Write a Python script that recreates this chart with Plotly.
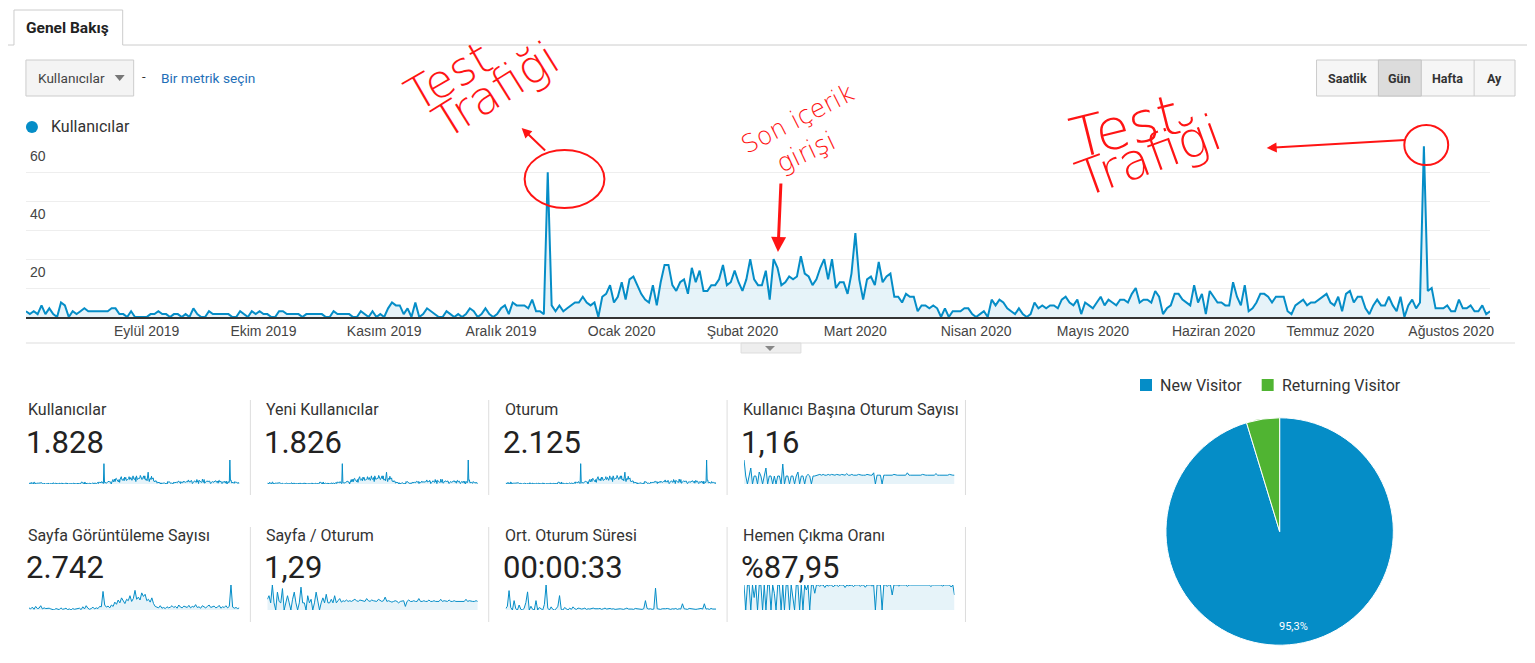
import pandas as pd
import plotly.graph_objects as go

W, H = 1535, 663
OFF = 8  # default page margin around the plot div
FW, FH = W - 2 * OFF, H - 2 * OFF - 5  # keep the page inside the window (no scrollbars)
BLUE = "#058DC7"
GREEN = "#50B432"
FILL = "rgba(5,141,199,0.10)"
RED = "#ff1414"
LINK = "#1f6fb8"
ROBOTO = "Roboto, Arial, sans-serif"
ARIAL = "Arial, Liberation Sans, sans-serif"
HAND = "DejaVu Sans"

START = "2019-08-01"

# daily users, 2019-08-01 .. 2020-08-11
users = [
    # Aug 2019
    2, 1, 2, 1, 4, 1, 3, 1, 0, 5, 4, 0, 2, 1, 2, 3, 2, 2, 2, 2, 2, 2, 3, 3, 1, 1, 0, 2, 0, 0, 0,
    # Sep
    0, 1, 1, 2, 1, 1, 0, 1, 1, 0, 1, 0, 3, 1, 0, 0, 2, 1, 1, 1, 1, 1, 0, 0, 2, 1, 0, 2, 1, 2,
    # Oct
    1, 1, 0, 0, 2, 2, 1, 1, 1, 1, 0, 1, 1, 1, 1, 1, 0, 0, 2, 1, 1, 1, 1, 0, 0, 2, 1, 0, 2, 0, 1,
    # Nov
    0, 3, 5, 4, 4, 1, 3, 0, 5, 0, 1, 3, 2, 1, 0, 0, 2, 1, 0, 1, 0, 1, 3, 2, 0, 1, 3, 1, 0, 1,
    # Dec
    3, 4, 1, 5, 4, 4, 4, 3, 6, 2, 2, 1, 50, 4, 2, 4, 2, 3, 4, 5, 5, 7, 5, 4, 5, 0, 7, 8, 11, 5, 7,
    # Jan 2020
    12, 6, 13, 14, 11, 8, 6, 5, 11, 4, 12, 18, 18, 11, 9, 12, 13, 8, 17, 12, 16, 9, 9, 11, 11, 13, 18, 11, 12, 16, 12,
    # Feb
    9, 13, 20, 13, 11, 11, 16, 6, 20, 17, 11, 12, 14, 13, 14, 21, 15, 14, 11, 13, 17, 20, 13, 20, 10, 12, 12, 8, 15,
    # Mar
    29, 13, 6, 13, 14, 11, 19, 12, 14, 15, 7, 7, 5, 8, 7, 7, 2, 4, 4, 3, 4, 3, 0, 3, 0, 2, 2, 2, 3, 3, 1,
    # Apr
    0, 1, 2, 0, 6, 4, 6, 5, 3, 2, 1, 3, 1, 0, 1, 5, 3, 4, 3, 4, 4, 3, 6, 7, 5, 4, 6, 1, 5, 4,
    # May
    3, 5, 7, 4, 6, 5, 4, 6, 6, 5, 8, 10, 5, 6, 6, 5, 9, 7, 1, 3, 4, 8, 8, 6, 5, 4, 11, 5, 8, 1, 9,
    # Jun
    7, 5, 5, 4, 4, 12, 7, 4, 11, 2, 3, 5, 8, 8, 7, 5, 7, 7, 7, 2, 1, 4, 5, 6, 4, 5, 5, 6, 7, 8,
    # Jul
    5, 4, 7, 2, 8, 9, 5, 7, 7, 3, 1, 4, 6, 4, 4, 7, 4, 2, 7, 0, 4, 6, 3, 5, 59, 9, 10, 3, 3, 3, 4,
    # Aug
    2, 2, 6, 3, 3, 4, 2, 2, 4, 1, 2,
]

month_ticks = ["2019-09-01", "2019-10-01", "2019-11-01", "2019-12-01", "2020-01-01", "2020-02-01",
               "2020-03-01", "2020-04-01", "2020-05-01", "2020-06-01", "2020-07-01", "2020-08-01"]
month_labels = ["Eylül 2019", "Ekim 2019", "Kasım 2019", "Aralık 2019", "Ocak 2020", "Şubat 2020",
                "Mart 2020", "Nisan 2020", "Mayıs 2020", "Haziran 2020", "Temmuz 2020", "Ağustos 2020"]
y_labels = [20, 40, 60]

# sparklines, roughly every third day
pageviews = [
    6, 3, 8, 2, 10, 4, 5, 12, 3, 6, 4, 5, 5, 3, 2, 0, 4, 3, 1, 6, 2, 3, 5, 1, 3, 0, 4, 2, 3, 2,
    5, 1, 9, 3, 12, 5, 2, 4, 8, 3, 6, 4, 10, 9, 52, 14, 8, 11, 6, 14, 10,
    22, 16, 28, 20, 34, 25, 18, 30, 26, 40, 24, 32, 55, 30, 36, 28, 48, 38, 44, 26, 30, 22, 34, 18,
    10, 8, 6, 12, 5, 7, 4, 9, 6, 8, 12, 7, 10, 5, 14, 8, 6, 11, 9, 7, 13, 6, 10, 8, 15, 7, 9, 5, 12, 8,
    6, 10, 14, 7, 9, 11, 6, 8, 13, 5, 9, 7, 12, 6, 10, 70, 8, 5, 7, 4, 6,
]
pages_per_session = [
    1.5, 2.0, 1.0, 3.5, 1.0, 0, 2.5, 1.2, 1.0, 3.0, 0, 1.0, 2.0, 1.0, 0, 1.5, 2.5, 1.0, 0, 1.0,
    3.2, 1.0, 1.0, 0, 2.0, 1.0, 1.5, 0, 1.0, 2.5, 1.0, 0, 1.0, 1.7, 1.0, 2.2, 1.0, 1.0, 1.5, 1.0,
    2.0, 1.0, 1.3, 1.6,
    1.1, 1.3, 1.2, 1.4, 1.2, 1.3, 1.2, 1.3, 1.5, 1.3, 1.2, 1.4, 1.3, 1.3, 1.2, 1.6, 1.3, 1.2, 1.4, 1.3,
    1.3, 1.2, 1.5, 1.3, 1.2, 1.3, 1.8, 1.2, 1.3, 1.2, 1.1, 1.2, 1.3, 1.2, 1.0, 1.2, 1.2, 1.3, 0.5, 1.2,
    1.4, 1.2, 1.2, 1.3, 1.2, 1.2, 1.6, 1.2, 1.2, 1.3, 1.2, 1.2, 1.4, 1.2, 1.2, 1.3, 1.2, 1.2, 1.2, 1.5,
    1.2, 1.3, 1.2, 1.2, 1.4, 1.2, 1.2, 1.3, 1.2, 1.2, 1.3, 1.2, 1.2, 1.2, 1.5, 1.2, 1.3, 1.2, 1.2, 1.2,
    1.3, 1.2,
]
session_seconds = [
    20, 60, 310, 40, 0, 150, 20, 0, 80, 10, 0, 30, 120, 290, 0, 60, 10, 0, 150, 0,
    40, 20, 0, 90, 400, 30, 0, 50, 10, 0, 20, 60, 230, 10, 0, 40, 20, 0, 30, 10,
    50, 20, 10, 30,
    25, 15, 20, 30, 10, 20, 15, 25, 30, 20, 15, 20, 25, 10, 20, 30, 15, 20, 25, 15,
    20, 10, 15, 25, 20, 15, 10, 20, 30, 15, 20, 15, 10, 25, 20, 15, 20, 10, 20, 150,
    25, 15, 20, 10, 15, 350, 20, 15, 10, 20, 15, 20, 25, 15, 10, 20, 15, 25, 10, 20,
    15, 100, 20, 15, 10, 25, 20, 15, 20, 10, 15, 20, 25, 15, 100, 15, 20, 10, 25, 15,
    20, 15,
]
bounce_rate = [
    100, 0, 100, 100, 0, 100, 50, 100, 0, 100, 100, 0, 100, 0, 100, 100, 0, 100, 67, 0,
    100, 100, 0, 100, 0, 100, 100, 0, 100, 50, 0, 100, 100, 0, 100, 0, 100, 80, 100, 0,
    100, 100, 67, 100,
    100, 95, 100, 100, 90, 100, 96, 100, 100, 92, 100, 100, 94, 100, 100, 100, 90, 100, 97, 100,
    100, 93, 100, 100, 100, 95, 100, 100, 91, 100, 100, 100, 96, 100, 0, 100, 100, 100, 0, 100,
    100, 95, 100, 100, 60, 100, 100, 100, 96, 100, 100, 100, 100, 95, 100, 100, 100, 100, 100, 100,
    100, 97, 100, 100, 100, 100, 100, 94, 100, 100, 100, 100, 100, 100, 96, 100, 100, 100, 100, 92,
    100, 60,
]
sessions_per_user = [
    3.0, 1.0, 0, 1.0, 2.0, 0, 1.0, 1.0, 0, 1.5, 1.0, 0, 1.0, 2.0, 0, 1.0, 1.0, 0, 1.0, 0,
    1.0, 1.0, 0, 2.5, 0, 1.0, 1.0, 0, 1.0, 1.0, 0, 1.0, 1.5, 0, 1.0, 1.0, 0, 1.0, 1.2, 1.0,
    0, 1.0, 1.0, 1.1,
    1.1, 1.2, 1.1, 1.2, 1.1, 1.1, 1.2, 1.1, 1.2, 1.1, 1.1, 1.2, 1.1, 1.1, 1.2, 1.1, 1.1, 1.3, 1.1, 1.1,
    1.2, 1.1, 1.1, 1.1, 1.2, 1.1, 1.1, 1.1, 1.1, 1.2, 1.1, 1.1, 1.1, 1.4, 0, 1.1, 1.1, 1.1, 0, 1.1,
    1.1, 1.1, 1.1, 1.1, 1.1, 1.2, 1.1, 1.1, 1.1, 1.1, 1.1, 1.1, 1.1, 1.4, 1.1, 1.1, 1.1, 1.1, 1.1, 1.1,
    1.1, 1.1, 1.2, 1.1, 1.1, 1.1, 1.1, 1.1, 1.1, 1.1, 1.3, 1.1, 1.1, 1.1, 1.1, 1.1, 1.1, 1.1, 1.2, 1.1,
    1.1, 1.1,
]

metric_titles = ["Kullanıcılar", "Yeni Kullanıcılar", "Oturum", "Kullanıcı Başına Oturum Sayısı",
                 "Sayfa Görüntüleme Sayısı", "Sayfa / Oturum", "Ort. Oturum Süresi", "Hemen Çıkma Oranı"]
metric_values = ["1.828", "1.826", "2.125", "1,16", "2.742", "1,29", "00:00:33", "%87,95"]
metric_series = [users, users, users, sessions_per_user,
                 pageviews, pages_per_session, session_seconds, bounce_rate]

visitor_labels = ["New Visitor", "Returning Visitor"]
visitor_share = [95.3, 4.7]
visitor_colors = [BLUE, GREEN]

periods = ["Saatlik", "Gün", "Hafta", "Ay"]


# page pixel -> paper fraction (the plot div sits 8px in from the page corner)
def px(x):
    return (x - OFF) / FW


def py(y):
    return 1 - (y - OFF) / FH


def rect(x0, y0, x1, y1, fill, line="#cccccc", width=1):
    return dict(type="rect", xref="paper", yref="paper", x0=px(x0), x1=px(x1),
                y0=py(y1), y1=py(y0), fillcolor=fill, line=dict(color=line, width=width), layer="below")


def hline(x0, x1, y, color="#cccccc", width=1):
    return dict(type="line", xref="paper", yref="paper", x0=px(x0), x1=px(x1),
                y0=py(y), y1=py(y), line=dict(color=color, width=width))


def vline(x, y0, y1, color="#dddddd", width=1):
    return dict(type="line", xref="paper", yref="paper", x0=px(x), x1=px(x),
                y0=py(y0), y1=py(y1), line=dict(color=color, width=width))


def path(points, fill):
    d = "M " + " L ".join(f"{px(x):.5f} {py(y):.5f}" for x, y in points) + " Z"
    return dict(type="path", xref="paper", yref="paper", path=d, fillcolor=fill, line=dict(width=0))


def label(text, x, y, size=13, color="#333333", xanchor="left", family=ROBOTO, **kw):
    return dict(text=text, x=px(x), y=py(y), xref="paper", yref="paper", showarrow=False,
                xanchor=xanchor, yanchor="middle", font=dict(size=size, color=color, family=family), **kw)


dates = pd.date_range(START, periods=len(users), freq="D")

fig = go.Figure()
fig.add_trace(go.Scatter(
    x=dates, y=users, mode="lines", line=dict(color=BLUE, width=2),
    fill="tozeroy", fillcolor=FILL, showlegend=False,
    hovertemplate="%{x|%d.%m.%Y}<br>Kullanıcılar: %{y}<extra></extra>",
))

shapes = []
annotations = []

# tab + top rule
shapes.append(dict(type="path", xref="paper", yref="paper",
                   path=f"M {px(14)} {py(45)} L {px(14)} {py(10)} L {px(123)} {py(10)} L {px(123)} {py(45)}",
                   line=dict(color="#cccccc", width=1)))
shapes += [hline(OFF, 14, 45), hline(123, W, 45)]
annotations.append(label("<b>Genel Bakış</b>", 68, 28, size=15.5, color="#222222", xanchor="center"))

# metric picker
shapes.append(rect(26, 60, 134, 96, "#f4f4f4"))
shapes.append(path([(115, 75), (125, 75), (120, 81)], "#777777"))
annotations.append(label("Kullanıcılar", 36, 78, size=13.6, color="#444444"))
annotations.append(label("-", 140, 76, size=13, color="#333333"))
annotations.append(label("Bir metrik seçin", 159, 78, size=13.7, color=LINK))

# period buttons
btn_edges = [1320, 1382, 1425, 1478, 1519]
shapes.append(rect(1320, 60, 1519, 96, "#f6f6f6"))
shapes.append(rect(1382, 60, 1425, 96, "#dcdcdc", line="#c4c4c4"))
shapes.append(vline(1478, 60, 96, color="#cccccc"))
for i, name in enumerate(periods):
    cx = (btn_edges[i] + btn_edges[i + 1]) / 2
    annotations.append(label(f"<b>{name}</b>", cx, 78, size=12.5, color="#333333", xanchor="center"))

# series legend
shapes.append(dict(type="circle", xref="paper", yref="paper", x0=px(26), x1=px(38),
                   y0=py(133), y1=py(121), fillcolor=BLUE, line=dict(width=0)))
annotations.append(label("Kullanıcılar", 49, 127, size=16, color="#333333"))

# y labels inside the plot, under their grid lines
for v in y_labels:
    annotations.append(dict(text=str(v), x=px(28), y=v, xref="paper", yref="y", showarrow=False,
                            xanchor="left", yanchor="top", yshift=-3,
                            font=dict(size=14, color="#444444", family=ARIAL)))

# separator + collapse handle
shapes.append(hline(26, 1519, 343, color="#dddddd"))
shapes.append(rect(743, 343, 803, 353, "#eeeeee", line="#dddddd"))
shapes.append(path([(767, 346), (777, 346), (772, 351)], "#888888"))

layout_axes = {}
col_x = [26, 265, 504, 743]
rows = [(409, 442, 460, 484, 400, 495), (535, 567, 585, 610, 527, 622)]
for k, (title, value, series) in enumerate(zip(metric_titles, metric_values, metric_series)):
    r, c = divmod(k, 4)
    ty, vy, sy0, sy1, dy0, dy1 = rows[r]
    x0 = col_x[c]
    annotations.append(label(title, x0, ty, size=16, color="#333333"))
    annotations.append(label(value, x0 - 2, vy, size=31, color="#222222"))
    if c < 3:
        shapes.append(vline(col_x[c + 1] - 14, dy0, dy1))
    else:
        shapes.append(vline(968, dy0, dy1))
    n = k + 2
    fig.add_trace(go.Scatter(
        x=list(range(len(series))), y=series, mode="lines", line=dict(color=BLUE, width=1),
        fill="tozeroy", fillcolor=FILL, showlegend=False, hoverinfo="skip",
        xaxis=f"x{n}", yaxis=f"y{n}",
    ))
    layout_axes[f"xaxis{n}"] = dict(domain=[px(x0 + 3), px(x0 + 214)], range=[0, len(series) - 1],
                                    visible=False, fixedrange=True, anchor=f"y{n}")
    layout_axes[f"yaxis{n}"] = dict(domain=[py(sy1), py(sy0)], range=[0, max(series)],
                                    visible=False, fixedrange=True, anchor=f"x{n}")

# visitor pie
fig.add_trace(go.Pie(
    labels=visitor_labels, values=visitor_share, sort=False, direction="clockwise", rotation=0,
    marker=dict(colors=visitor_colors, line=dict(color="#ffffff", width=1)),
    textinfo="none", showlegend=False, hole=0,
    domain=dict(x=[px(1169), px(1397)], y=[py(646), py(417)]),
))
legend_x = [1143, 1265]
for lx, name, col in zip(legend_x, visitor_labels, visitor_colors):
    shapes.append(rect(lx, 379, lx + 12, 391, col, line=col, width=0))
    annotations.append(label(name, lx + 18, 385, size=16, color="#333333"))
annotations.append(label(f"{visitor_share[0]:.1f}%".replace(".", ","), 1297, 626,
                         size=11, color="#ffffff", xanchor="center"))

# hand-drawn notes
shapes.append(dict(type="circle", xref="paper", yref="paper", x0=px(526), x1=px(606),
                   y0=py(208), y1=py(150), line=dict(color=RED, width=2)))
shapes.append(dict(type="circle", xref="paper", yref="paper", x0=px(1408), x1=px(1452),
                   y0=py(165), y1=py(125), line=dict(color=RED, width=2)))
notes = [
    ("Test", 450, 76, 46, -30),
    ("Trafiği", 497, 90, 46, -32),
    ("Son içerik", 800, 118, 25, -27),
    ("girişi", 808, 152, 26, -25),
    ("Test", 1128, 127, 56, -14),
    ("Trafiği", 1152, 156, 50, -20),
]
for text, x, y, size, angle in notes:
    annotations.append(dict(text=text, x=px(x), y=py(y), xref="paper", yref="paper", showarrow=False,
                            xanchor="center", yanchor="middle", textangle=angle,
                            font=dict(size=size, color=RED, family=HAND, weight=200)))
arrows = [
    (523, 128, 25, 24, 2),
    (780, 252, 3, -70, 3),
    (1270, 148, 140, -8, 2),
]
for x, y, ax, ay, w in arrows:
    annotations.append(dict(text="", x=px(x), y=py(y), xref="paper", yref="paper", showarrow=True,
                            ax=ax, ay=ay, arrowhead=2, arrowsize=1, arrowwidth=w, arrowcolor=RED))

fig.update_layout(
    width=FW, height=FH, margin=dict(l=0, r=0, t=0, b=0),
    paper_bgcolor="#ffffff", plot_bgcolor="#ffffff",
    font=dict(family=ROBOTO, color="#333333"),
    xaxis=dict(domain=[px(26), px(1494)], range=[dates[0], dates[-1]], type="date",
               tickvals=month_ticks, ticktext=month_labels, showgrid=False, zeroline=False,
               showline=True, linecolor="#333333", linewidth=2, ticks="",
               tickfont=dict(size=14, color="#444444", family=ARIAL), fixedrange=True),
    yaxis=dict(domain=[py(317), py(143.3)], range=[0, 60], dtick=10, showgrid=True,
               gridcolor="#eeeeee", showticklabels=False, zeroline=False, fixedrange=True),
    shapes=shapes, annotations=annotations, hovermode="closest",
    **layout_axes,
)

fig.write_html("out.html", config={"displayModeBar": False})
